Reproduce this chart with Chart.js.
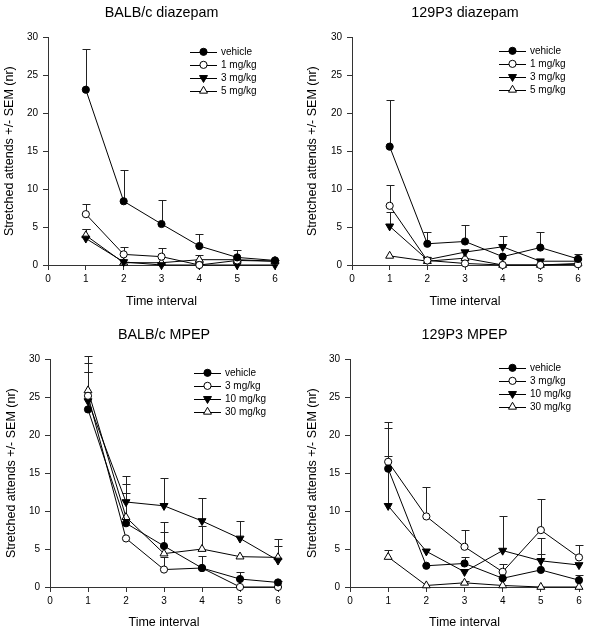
<!DOCTYPE html>
<html>
<head>
<meta charset="utf-8">
<script src="https://cdn.jsdelivr.net/npm/chart.js@4.4.0/dist/chart.umd.min.js"></script>
<style>
    html, body { margin: 0; padding: 0; background: #fff; }
    #wrap { position: relative; width: 600px; height: 634px; }
    #wrap canvas { position: absolute; }
</style>
</head>
<body>
<div id="wrap">
    <canvas id="balbDiazepam" width="300" height="310" style="left:0;top:0"></canvas>
    <canvas id="p129Diazepam" width="300" height="310" style="left:300px;top:0"></canvas>
    <canvas id="balbMpep" width="300" height="324" style="left:0;top:310px"></canvas>
    <canvas id="p129Mpep" width="300" height="324" style="left:300px;top:310px"></canvas>
</div>
<script>
const intervals = [1, 2, 3, 4, 5, 6];
const diazepamDoses = ['vehicle', '1 mg/kg', '3 mg/kg', '5 mg/kg'];
const mpepDoses = ['vehicle', '3 mg/kg', '10 mg/kg', '30 mg/kg'];

// BALB/c diazepam
const balbDzpVehicle = [23.1, 8.4, 5.4, 2.5, 1.0, 0.6];
const balbDzpVehicleSem = [5.4, 4.1, 3.2, 1.6, 1.0, 0.1];
const balbDzp1 = [6.7, 1.4, 1.1, 0.0, 0.6, 0.5];
const balbDzp1Sem = [1.4, 1.0, 1.1, 0, 0, 0];
const balbDzp3 = [3.5, 0.4, 0.0, 0.0, 0.0, 0.0];
const balbDzp3Sem = [1.2, 0, 0, 0, 0, 0];
const balbDzp5 = [3.9, 0.3, 0.3, 0.7, 0.7, 0.5];
const balbDzp5Sem = [0.8, 0, 0, 0.6, 0, 0];

// 129P3 diazepam
const p129DzpVehicle = [15.6, 2.8, 3.1, 1.1, 2.3, 0.8];
const p129DzpVehicleSem = [6.2, 1.5, 2.2, 0, 2.1, 0.7];
const p129Dzp1 = [7.8, 0.6, 0.2, 0.0, 0.0, 0.1];
const p129Dzp1Sem = [2.8, 0, 0, 0, 0, 0];
const p129Dzp3 = [5.1, 0.7, 1.7, 2.4, 0.5, 0.5];
const p129Dzp3Sem = [1.9, 0, 0, 1.4, 0, 0];
const p129Dzp5 = [1.2, 0.5, 0.9, 0.0, 0.0, 0.2];
const p129Dzp5Sem = [0, 0, 0, 0, 0, 0];

// BALB/c MPEP
const balbMpepVehicle = [23.4, 8.4, 5.4, 2.5, 1.05, 0.6];
const balbMpepVehicleSem = [5.0, 4.0, 3.2, 1.6, 0.95, 0.2];
const balbMpep3 = [25.2, 6.4, 2.3, 2.5, 0.0, 0.0];
const balbMpep3Sem = [3.1, 0, 1.6, 0, 0, 0];
const balbMpep10 = [24.5, 11.2, 10.7, 8.7, 6.4, 3.5];
const balbMpep10Sem = [5.0, 3.4, 3.6, 3.0, 2.3, 2.8];
const balbMpep30 = [25.9, 9.2, 4.4, 5.0, 4.0, 3.9];
const balbMpep30Sem = [4.5, 4.4, 2.9, 3.0, 0, 1.5];

// 129P3 MPEP
const p129MpepVehicle = [15.6, 2.8, 3.1, 1.15, 2.25, 0.9];
const p129MpepVehicleSem = [6.1, 0, 0.8, 0, 2.15, 0.7];
const p129Mpep3 = [16.5, 9.3, 5.3, 2.0, 7.5, 3.9];
const p129Mpep3Sem = [4.5, 3.9, 2.15, 1.0, 4.1, 1.65];
const p129Mpep10 = [10.7, 4.7, 2.0, 4.8, 3.45, 2.9];
const p129Mpep10Sem = [6.6, 0, 0, 4.6, 3.0, 0];
const p129Mpep30 = [3.95, 0.2, 0.55, 0.2, 0.0, 0.0];
const p129Mpep30Sem = [0.9, 0, 0.2, 0, 0, 0];

const yTicks = { min: 0, max: 30, step: 5 };
const xTicks = { min: 0, max: 6, step: 1 };

const FONT = "'Liberation Sans', Arial, sans-serif";
Chart.defaults.font.family = FONT;
Chart.defaults.color = '#000';

// marker looks: filled circle, open circle, filled down triangle, open up triangle
const markers = [
    { pointStyle: 'circle', radius: 3.6, fill: '#000', rotation: 0 },
    { pointStyle: 'circle', radius: 3.6, fill: '#fff', rotation: 0 },
    { pointStyle: 'triangle', radius: 4.6, fill: '#000', rotation: 180 },
    { pointStyle: 'triangle', radius: 4.6, fill: '#fff', rotation: 0 }
];

function drawMarker(ctx, style, radius, rotation, fill, x, y) {
    ctx.save();
    ctx.beginPath();
    if (style === 'circle') {
        ctx.arc(x, y, radius, 0, Math.PI * 2);
    } else {
        const rot = rotation * Math.PI / 180;
        for (let k = 0; k < 3; k++) {
            const a = rot + k * 2 * Math.PI / 3;
            const px = x + Math.sin(a) * radius;
            const py = y - Math.cos(a) * radius;
            if (k === 0) ctx.moveTo(px, py); else ctx.lineTo(px, py);
        }
        ctx.closePath();
    }
    ctx.fillStyle = fill;
    ctx.fill();
    ctx.lineWidth = 1;
    ctx.strokeStyle = '#000';
    ctx.stroke();
    ctx.restore();
}

// upward SEM bars with caps, drawn below the markers
const errorBars = {
    id: 'errorBars',
    beforeDatasetsDraw(chart) {
        const ctx = chart.ctx;
        const xs = chart.scales.x;
        const ys = chart.scales.y;
        ctx.save();
        ctx.strokeStyle = '#222';
        ctx.lineWidth = 1;
        chart.data.datasets.forEach(ds => {
            ds.data.forEach((pt, i) => {
                const sem = ds.sem[i];
                if (!sem) return;
                const x = Math.round(xs.getPixelForValue(pt.x)) + 0.5;
                const y0 = ys.getPixelForValue(pt.y);
                const y1 = Math.round(ys.getPixelForValue(pt.y + sem)) + 0.5;
                ctx.beginPath();
                ctx.moveTo(x, y0);
                ctx.lineTo(x, y1);
                ctx.moveTo(x - 4, y1);
                ctx.lineTo(x + 4, y1);
                ctx.stroke();
            });
        });
        ctx.restore();
    }
};

// legend with a line through the marker, inside the plot, top right
const lineLegend = {
    id: 'lineLegend',
    afterDraw(chart, args, opts) {
        const ctx = chart.ctx;
        const area = chart.chartArea;
        const x0 = area.right - opts.fromRight;
        let y = area.top + opts.fromTop;
        ctx.save();
        ctx.font = '10px ' + FONT;
        ctx.textBaseline = 'middle';
        ctx.fillStyle = '#000';
        chart.data.datasets.forEach(ds => {
            ctx.strokeStyle = '#000';
            ctx.lineWidth = 1;
            ctx.beginPath();
            ctx.moveTo(x0, Math.round(y) + 0.5);
            ctx.lineTo(x0 + 27, Math.round(y) + 0.5);
            ctx.stroke();
            drawMarker(ctx, ds.pointStyle, ds.pointRadius, ds.pointRotation, ds.pointBackgroundColor, x0 + 13.5, y);
            ctx.fillText(ds.label, x0 + 31, y);
            y += 13;
        });
        ctx.restore();
    }
};

function buildDatasets(labels, series, sems) {
    return labels.map((label, k) => ({
        label: label,
        data: intervals.map((x, i) => ({ x: x, y: series[k][i] })),
        sem: sems[k],
        borderColor: '#000',
        borderWidth: 1,
        pointStyle: markers[k].pointStyle,
        pointRadius: markers[k].radius,
        pointRotation: markers[k].rotation,
        pointBackgroundColor: markers[k].fill,
        pointBorderColor: '#000',
        pointBorderWidth: 1,
        tension: 0,
        clip: false
    }));
}

function drawPanel(canvasId, title, labels, series, sems, box) {
    const ctx = document.getElementById(canvasId).getContext('2d');
    new Chart(ctx, {
        type: 'line',
        data: { datasets: buildDatasets(labels, series, sems) },
        options: {
            responsive: false,
            animation: false,
            layout: { padding: { left: 0, right: box.padRight, top: 0, bottom: 0 } },
            scales: {
                x: {
                    type: 'linear',
                    min: xTicks.min,
                    max: xTicks.max,
                    afterFit(s) { s.height = box.xHeight; },
                    ticks: { stepSize: xTicks.step, font: { size: 10 }, padding: 3, color: '#000' },
                    grid: { drawOnChartArea: false, drawTicks: true, tickLength: 5, color: '#333' },
                    border: { display: true, color: '#333' },
                    title: {
                        display: true,
                        text: 'Time interval',
                        font: { size: 12.5 },
                        color: '#000',
                        padding: { top: 0, bottom: box.xTitleBottom }
                    }
                },
                y: {
                    min: yTicks.min,
                    max: yTicks.max,
                    afterFit(s) { s.width = box.yWidth; },
                    ticks: { stepSize: yTicks.step, font: { size: 10 }, padding: 5, color: '#000' },
                    grid: { drawOnChartArea: false, drawTicks: true, tickLength: 5, color: '#333' },
                    border: { display: true, color: '#333' },
                    title: {
                        display: true,
                        text: 'Stretched attends +/- SEM (nr)',
                        font: { size: 12.5 },
                        color: '#000',
                        padding: { top: box.yTitleX - 7.5, bottom: 0 }
                    }
                }
            },
            plugins: {
                legend: { display: false },
                tooltip: { enabled: false },
                title: {
                    display: true,
                    fullSize: false,
                    text: title,
                    font: { size: 14.3, weight: 'normal' },
                    color: '#000',
                    padding: { top: box.titleTop, bottom: 16.2 }
                },
                lineLegend: { fromRight: box.legendRight, fromTop: box.legendTop }
            }
        },
        plugins: [errorBars, lineLegend]
    });
}

document.addEventListener('DOMContentLoaded', function () {
    drawPanel('balbDiazepam', 'BALB/c diazepam', diazepamDoses,
        [balbDzpVehicle, balbDzp1, balbDzp3, balbDzp5],
        [balbDzpVehicleSem, balbDzp1Sem, balbDzp3Sem, balbDzp5Sem],
        { padRight: 25, yWidth: 48, yTitleX: 10, xHeight: 45, xTitleBottom: 0.5, titleTop: 4, legendRight: 85, legendTop: 14.5 });

    drawPanel('p129Diazepam', '129P3 diazepam', diazepamDoses,
        [p129DzpVehicle, p129Dzp1, p129Dzp3, p129Dzp5],
        [p129DzpVehicleSem, p129Dzp1Sem, p129Dzp3Sem, p129Dzp5Sem],
        { padRight: 22, yWidth: 52, yTitleX: 13, xHeight: 45, xTitleBottom: 0.5, titleTop: 4, legendRight: 79, legendTop: 13.5 });

    drawPanel('balbMpep', 'BALB/c MPEP', mpepDoses,
        [balbMpepVehicle, balbMpep3, balbMpep10, balbMpep30],
        [balbMpepVehicleSem, balbMpep3Sem, balbMpep10Sem, balbMpep30Sem],
        { padRight: 22, yWidth: 50, yTitleX: 12, xHeight: 47, xTitleBottom: 3.5, titleTop: 16, legendRight: 84, legendTop: 13.5 });

    drawPanel('p129Mpep', '129P3 MPEP', mpepDoses,
        [p129MpepVehicle, p129Mpep3, p129Mpep10, p129Mpep30],
        [p129MpepVehicleSem, p129Mpep3Sem, p129Mpep10Sem, p129Mpep30Sem],
        { padRight: 21, yWidth: 50, yTitleX: 13, xHeight: 47, xTitleBottom: 3.5, titleTop: 16, legendRight: 80, legendTop: 8.5 });
});
</script>
</body>
</html>
